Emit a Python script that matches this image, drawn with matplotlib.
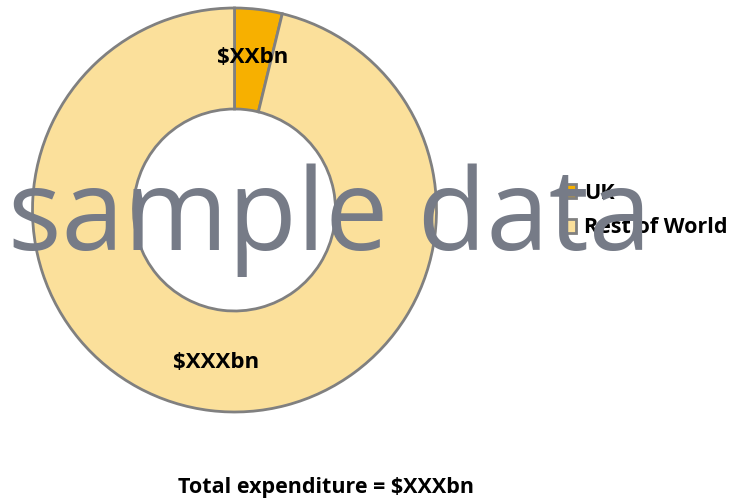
import numpy as np
import matplotlib.pyplot as plt

# Chart data
regions = ['UK', 'Rest of World']
shares = [3.8, 96.2]
value_labels = ['$XXbn', '$XXXbn']
colors = ['#F7B000', '#FBE09B']
total_label = 'Total expenditure = $XXXbn'

plt.rcParams['font.family'] = ['Open Sans', 'DejaVu Sans']

fig = plt.figure(figsize=(7.3, 5.04), dpi=100)
ax = fig.add_axes([0, 0, 1, 1])

cx, cy, R = 234.5, 294, 202
wedges, _ = ax.pie(shares, colors=colors, startangle=90, counterclock=False,
                   center=(cx, cy), radius=R, frame=True,
                   wedgeprops=dict(width=R * 0.5, edgecolor='#808080', linewidth=2))
ax.set_xlim(0, 730)
ax.set_ylim(0, 504)
ax.set_aspect('equal')
ax.axis('off')

# value labels in the middle of each ring segment
for w, lab in zip(wedges, value_labels):
    ang = np.deg2rad((w.theta1 + w.theta2) / 2)
    r = R * 0.76
    ax.text(cx + r * np.cos(ang), cy + r * np.sin(ang), lab, ha='center', va='center',
            fontsize=16, fontweight='bold', color='black')

leg = ax.legend(wedges, regions, loc='center left', bbox_to_anchor=(565 / 730, 293.5 / 504),
                frameon=False, borderpad=0, borderaxespad=0,
                handlelength=0.5, handleheight=0.6, handletextpad=0.4,
                labelspacing=0.63, prop=dict(size=15.5, weight='bold'))

fig.text(325.5 / 730, 1 - 488 / 504, total_label, ha='center', va='center',
         fontsize=15.5, fontweight='bold')

# watermark
fig.text(330 / 730, 1 - 250 / 504, 'sample data', ha='center', va='baseline',
         fontsize=81, color='#767B87', zorder=10)

fig.savefig('out.png', dpi=100)
